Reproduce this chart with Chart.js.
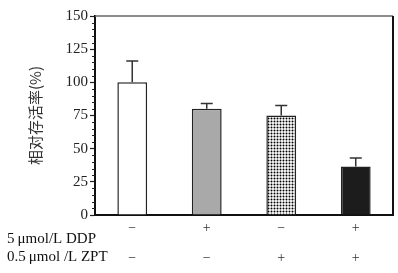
<!DOCTYPE html>
<html>
<head>
<meta charset="utf-8">
<script src="https://cdn.jsdelivr.net/npm/chart.js@4.4.1/dist/chart.umd.min.js"></script>
<style>
  html, body { margin: 0; padding: 0; background: #fff; }
  #wrap { width: 398px; height: 273px; }
</style>
</head>
<body>
<div id="wrap"><canvas id="chartjs_survival"></canvas></div>
<script>
// data
const groups = ['Control', 'DDP', 'ZPT', 'DDP+ZPT'];
const survival = [100, 80, 75, 36.5];
const errors = [16, 4, 7.5, 6.5];
const ddpRow = ['\u2212', '+', '\u2212', '+'];
const zptRow = ['\u2212', '\u2212', '+', '+'];
const rowLabels = ['5\u2009\u03bcmol/L DDP', '0.5\u2009\u03bcmol /L ZPT'];
const yTicks = [0, 25, 50, 75, 100, 125, 150];

// dotted fill for the ZPT bar
function dotPattern() {
	const c = document.createElement('canvas');
	c.width = 3; c.height = 3;
	const g = c.getContext('2d');
	g.fillStyle = '#fff';
	g.fillRect(0, 0, 3, 3);
	g.fillStyle = '#000';
	g.beginPath();
	g.arc(1.5, 1.5, 1, 0, Math.PI * 2);
	g.fill();
	return g.createPattern(c, 'repeat');
}

const extras = {
	id: 'extras',
	afterDatasetsDraw(chart) {
		const ctx = chart.ctx;
		const x = chart.scales.x, y = chart.scales.y;
		const a = chart.chartArea;
		ctx.save();
		// error bars (upper only)
		ctx.strokeStyle = '#333';
		ctx.lineWidth = 1.5;
		survival.forEach((v, i) => {
			const cx = x.getPixelForValue(i);
			const y0 = y.getPixelForValue(v);
			const y1 = y.getPixelForValue(v + errors[i]);
			ctx.beginPath();
			ctx.moveTo(cx, y0);
			ctx.lineTo(cx, y1);
			ctx.moveTo(cx - 6, y1);
			ctx.lineTo(cx + 6, y1);
			ctx.stroke();
		});
		// minor ticks
		ctx.strokeStyle = '#222';
		ctx.lineWidth = 1;
		for (let v = 5; v < 150; v += 5) {
			if (v % 25 === 0) continue;
			const py = Math.round(y.getPixelForValue(v)) + 0.5;
			ctx.beginPath();
			ctx.moveTo(a.left - 3, py);
			ctx.lineTo(a.left, py);
			ctx.stroke();
		}
		// frame top and right
		ctx.strokeStyle = '#666';
		ctx.lineWidth = 1.5;
		ctx.beginPath();
		ctx.moveTo(a.left, a.top);
		ctx.lineTo(a.right, a.top);
		ctx.stroke();
		ctx.strokeStyle = '#111';
		ctx.lineWidth = 2;
		ctx.beginPath();
		ctx.moveTo(a.right, a.top);
		ctx.lineTo(a.right, a.bottom);
		ctx.stroke();
		// treatment rows
		ctx.fillStyle = '#333';
		ctx.font = '14px "Liberation Serif"';
		ctx.textAlign = 'center';
		ctx.textBaseline = 'middle';
		ddpRow.forEach((s, i) => ctx.fillText(s, x.getPixelForValue(i), 228));
		zptRow.forEach((s, i) => ctx.fillText(s, x.getPixelForValue(i), 258));
		ctx.fillStyle = '#111';
		ctx.textAlign = 'left';
		ctx.font = '15px "Liberation Serif"';
		ctx.fillText(rowLabels[0], 7, 239);
		ctx.fillText(rowLabels[1], 7, 257);
		ctx.restore();
	}
};

document.addEventListener("DOMContentLoaded", function () {
	new Chart(document.getElementById("chartjs_survival"), {
		type: 'bar',
		data: {
			labels: groups,
			datasets: [{
				data: survival,
				backgroundColor: ['#ffffff', '#a9a9a9', dotPattern(), '#1c1c1c'],
				borderColor: '#222',
				borderWidth: 1.5,
				barPercentage: 0.4,
				categoryPercentage: 1
			}]
		},
		options: {
			responsive: true,
			maintainAspectRatio: false,
			animation: false,
			layout: { padding: { left: 0, top: 16, right: 5, bottom: 58 } },
			plugins: {
				legend: { display: false },
				tooltip: { enabled: false }
			},
			scales: {
				x: {
					grid: { display: false },
					ticks: { display: false },
					border: { color: '#111', width: 2 },
					afterFit: (s) => { s.height = 0; }
				},
				y: {
					min: 0,
					max: 150,
					afterBuildTicks: (s) => { s.ticks = yTicks.map((v) => ({ value: v })); },
					ticks: {
						color: '#222',
						padding: 2,
						font: { family: '"Liberation Serif", serif', size: 15 }
					},
					grid: {
						drawOnChartArea: false,
						tickLength: 5,
						tickColor: '#222',
						tickWidth: 1.2
					},
					border: { color: '#111', width: 2 },
					title: {
						display: true,
						text: '相对存活率(%)',
						color: '#333',
						padding: { top: 26, bottom: 0 },
						font: { family: '"Noto Sans CJK SC", sans-serif', size: 15 }
					},
					afterFit: (s) => { s.width = 95; }
				}
			}
		},
		plugins: [extras]
	});
});
</script>
</body>
</html>
